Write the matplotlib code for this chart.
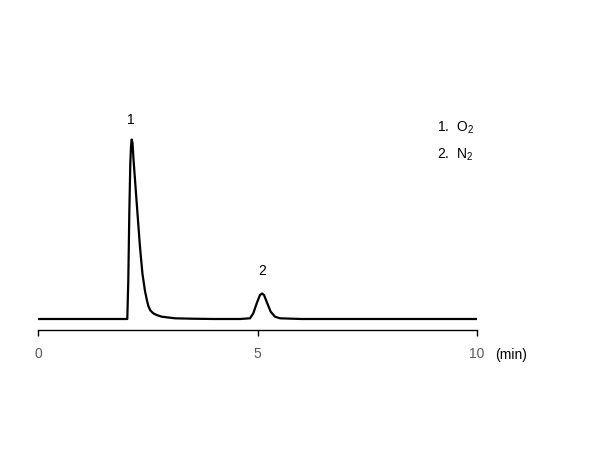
import matplotlib
matplotlib.use("Agg")
from matplotlib import pyplot as plt

# chromatogram: time (min) and signal (arbitrary units)
time_min = [0.0, 1.0, 2.0, 2.034, 2.057, 2.080, 2.103, 2.118, 2.134, 2.153, 2.175,
            2.210, 2.267, 2.323, 2.380, 2.437, 2.48, 2.513, 2.56, 2.626, 2.70,
            2.818, 3.121, 3.5, 4.0, 4.6, 4.829, 4.904, 4.982, 5.057, 5.103,
            5.148, 5.223, 5.300, 5.399, 5.513, 6.0, 7.0, 8.5, 10.0]
signal = [0.0, 0.0, 0.0, 0.0, 39, 106, 156, 172, 179.5, 176, 160,
          139, 105, 72, 45, 28, 19, 13, 8.5, 5.7, 4.0,
          2.3, 0.7, 0.3, 0.0, 0.0, 0.7, 5.7, 15.7, 24, 25.5,
          24, 15.7, 7.3, 2.3, 0.7, 0.0, 0.0, 0.0, 0.0]

peak_labels = ["1", "2"]
peak_times = [2.12, 5.10]
peak_label_heights = [199, 48]

legend_lines = ["1.  O$_2$", "2.  N$_2$"]
x_ticks = [0, 5, 10]

plt.rcParams["font.family"] = ["Liberation Sans", "DejaVu Sans"]
plt.rcParams["mathtext.fontset"] = "custom"
plt.rcParams["mathtext.rm"] = "Liberation Sans"

fig = plt.figure(figsize=(6, 4.5), dpi=100)
ax = fig.add_axes([38 / 600, 1 - 330 / 450, 439 / 600, 230 / 450])

ax.plot(time_min, signal, color="black", linewidth=1.6, solid_joinstyle="round")

ax.set_xlim(0, 10)
ax.set_ylim(-11, 219)
for side in ["left", "top", "right"]:
    ax.spines[side].set_visible(False)
ax.spines["bottom"].set_linewidth(1.0)
ax.set_yticks([])
ax.set_xticks(x_ticks)
ax.tick_params(axis="x", direction="out", length=4, width=1.0, pad=8,
               labelsize=10, labelcolor="#595959")

for lab, t, h in zip(peak_labels, peak_times, peak_label_heights):
    ax.text(t, h, lab, ha="center", va="center", fontsize=10)

for i, line in enumerate(legend_lines):
    fig.text(437 / 600, 1 - (128 + 27 * i) / 450, line, ha="left", va="center",
             fontsize=10)

fig.text(511 / 600, 1 - 355 / 450, "(min)", ha="center", va="center", fontsize=10)

plt.savefig("out.png", dpi=100)
